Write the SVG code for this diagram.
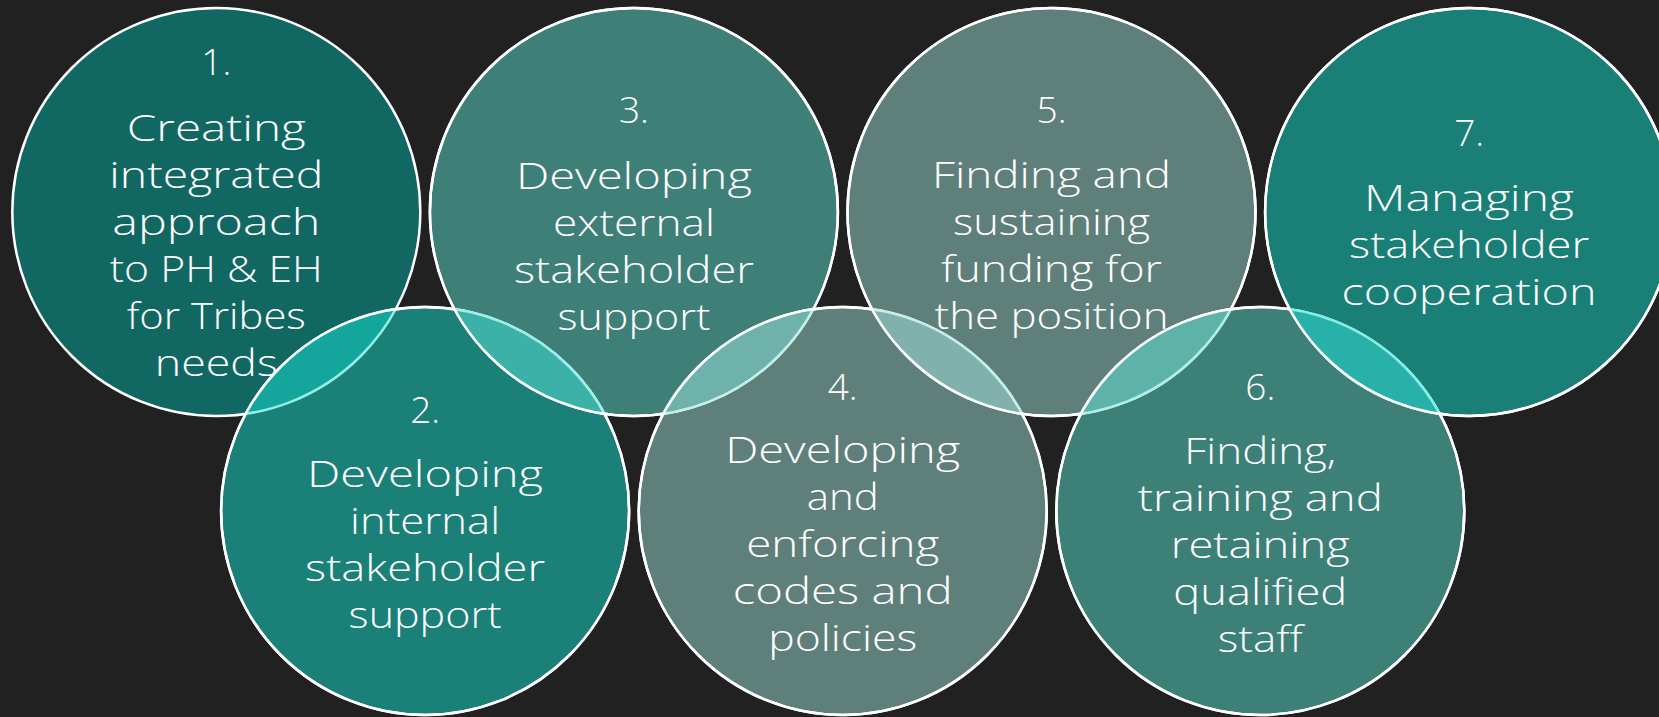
<svg xmlns="http://www.w3.org/2000/svg" width="1659" height="717" viewBox="0 0 1659 717">
<style>
.c{stroke:#ffffff;stroke-width:2.5}
.t{font-family:"Open Sans","DejaVu Sans",sans-serif;font-weight:300;font-size:37px;fill:#ffffff;text-anchor:middle}
.ln{stroke-width:2.5;fill:none}
</style>
<defs>
<clipPath id="k2"><circle cx="425.1" cy="511" r="204"/></clipPath>
<clipPath id="k3"><circle cx="633.9" cy="212" r="204"/></clipPath>
<clipPath id="k4"><circle cx="842.7" cy="511" r="204"/></clipPath>
<clipPath id="k5"><circle cx="1051.5" cy="212" r="204"/></clipPath>
<clipPath id="k6"><circle cx="1260.3" cy="511" r="204"/></clipPath>
<clipPath id="k7"><circle cx="1469.1" cy="212" r="204"/></clipPath>
</defs>
<rect width="1659" height="717" fill="#212121"/>

<g id="node1">
<circle class="c" cx="216.3" cy="212" r="204" fill="#116863"/>
<text class="t" x="216.3" y="75">1.</text>
<text class="t" x="216.3" y="141" textLength="179" lengthAdjust="spacingAndGlyphs">Creating</text>
<text class="t" x="216.3" y="188" textLength="214" lengthAdjust="spacingAndGlyphs">integrated</text>
<text class="t" x="216.3" y="235" textLength="208" lengthAdjust="spacingAndGlyphs">approach</text>
<text class="t" x="216.3" y="282" textLength="213" lengthAdjust="spacingAndGlyphs">to PH &amp; EH</text>
<text class="t" x="216.3" y="329" textLength="179" lengthAdjust="spacingAndGlyphs">for Tribes</text>
<text class="t" x="216.3" y="376" textLength="123" lengthAdjust="spacingAndGlyphs">needs</text>
</g>

<g id="node2">
<circle class="c" cx="425.1" cy="511" r="204" fill="#1B8078"/>
<text class="t" x="425.1" y="423">2.</text>
<text class="t" x="425.1" y="487" textLength="236" lengthAdjust="spacingAndGlyphs">Developing</text>
<text class="t" x="425.1" y="534" textLength="150" lengthAdjust="spacingAndGlyphs">internal</text>
<text class="t" x="425.1" y="581" textLength="240" lengthAdjust="spacingAndGlyphs">stakeholder</text>
<text class="t" x="425.1" y="628" textLength="153" lengthAdjust="spacingAndGlyphs">support</text>
</g>

<g id="node3">
<circle class="c" cx="633.9" cy="212" r="204" fill="#3E8078"/>
<text class="t" x="633.9" y="123">3.</text>
<text class="t" x="633.9" y="189" textLength="236" lengthAdjust="spacingAndGlyphs">Developing</text>
<text class="t" x="633.9" y="236" textLength="162" lengthAdjust="spacingAndGlyphs">external</text>
<text class="t" x="633.9" y="283" textLength="240" lengthAdjust="spacingAndGlyphs">stakeholder</text>
<text class="t" x="633.9" y="330" textLength="153" lengthAdjust="spacingAndGlyphs">support</text>
</g>

<g id="node4">
<circle class="c" cx="842.7" cy="511" r="204" fill="#5F7F7B"/>
<text class="t" x="842.7" y="400">4.</text>
<text class="t" x="842.7" y="463" textLength="235" lengthAdjust="spacingAndGlyphs">Developing</text>
<text class="t" x="842.7" y="510" textLength="72" lengthAdjust="spacingAndGlyphs">and</text>
<text class="t" x="842.7" y="557" textLength="193" lengthAdjust="spacingAndGlyphs">enforcing</text>
<text class="t" x="842.7" y="604" textLength="220" lengthAdjust="spacingAndGlyphs">codes and</text>
<text class="t" x="842.7" y="651" textLength="149" lengthAdjust="spacingAndGlyphs">policies</text>
</g>

<g id="node5">
<circle class="c" cx="1051.5" cy="212" r="204" fill="#5F7F7B"/>
<text class="t" x="1051.5" y="123">5.</text>
<text class="t" x="1051.5" y="188" textLength="239" lengthAdjust="spacingAndGlyphs">Finding and</text>
<text class="t" x="1051.5" y="235" textLength="197" lengthAdjust="spacingAndGlyphs">sustaining</text>
<text class="t" x="1051.5" y="282" textLength="221" lengthAdjust="spacingAndGlyphs">funding for</text>
<text class="t" x="1051.5" y="329" textLength="234" lengthAdjust="spacingAndGlyphs">the position</text>
</g>

<g id="node6">
<circle class="c" cx="1260.3" cy="511" r="204" fill="#3D8077"/>
<text class="t" x="1260.3" y="400">6.</text>
<text class="t" x="1260.3" y="464" textLength="152" lengthAdjust="spacingAndGlyphs">Finding,</text>
<text class="t" x="1260.3" y="511" textLength="245" lengthAdjust="spacingAndGlyphs">training and</text>
<text class="t" x="1260.3" y="558" textLength="179" lengthAdjust="spacingAndGlyphs">retaining</text>
<text class="t" x="1260.3" y="605" textLength="174" lengthAdjust="spacingAndGlyphs">qualified</text>
<text class="t" x="1260.3" y="652" textLength="85" lengthAdjust="spacingAndGlyphs">staff</text>
</g>

<g id="node7">
<circle class="c" cx="1469.1" cy="212" r="204" fill="#1A7F77"/>
<text class="t" x="1469.1" y="146">7.</text>
<text class="t" x="1469.1" y="211" textLength="210" lengthAdjust="spacingAndGlyphs">Managing</text>
<text class="t" x="1469.1" y="258" textLength="240" lengthAdjust="spacingAndGlyphs">stakeholder</text>
<text class="t" x="1469.1" y="305" textLength="255" lengthAdjust="spacingAndGlyphs">cooperation</text>
</g>

<g id="overlaps">
<circle cx="216.3" cy="212" r="204" fill="#14A69C" clip-path="url(#k2)"/>
<circle class="ln" cx="216.3" cy="212" r="204" stroke="#8FF0E6" clip-path="url(#k2)"/>
<circle class="ln" cx="425.1" cy="511" r="204" stroke="#ffffff"/>

<circle cx="425.1" cy="511" r="204" fill="#3BB1A8" clip-path="url(#k3)"/>
<circle class="ln" cx="425.1" cy="511" r="204" stroke="#9AF0E8" clip-path="url(#k3)"/>
<circle class="ln" cx="633.9" cy="212" r="204" stroke="#ffffff"/>

<circle cx="633.9" cy="212" r="204" fill="#6EB2AB" clip-path="url(#k4)"/>
<circle class="ln" cx="633.9" cy="212" r="204" stroke="#C0F0EA" clip-path="url(#k4)"/>
<circle class="ln" cx="842.7" cy="511" r="204" stroke="#ffffff"/>

<circle cx="842.7" cy="511" r="204" fill="#80B1AC" clip-path="url(#k5)"/>
<circle class="ln" cx="842.7" cy="511" r="204" stroke="#C4EEEA" clip-path="url(#k5)"/>
<circle class="ln" cx="1051.5" cy="212" r="204" stroke="#ffffff"/>

<circle cx="1051.5" cy="212" r="204" fill="#5DB2AA" clip-path="url(#k6)"/>
<circle class="ln" cx="1051.5" cy="212" r="204" stroke="#A8F0E8" clip-path="url(#k6)"/>
<circle class="ln" cx="1260.3" cy="511" r="204" stroke="#ffffff"/>

<circle cx="1260.3" cy="511" r="204" fill="#28B1A8" clip-path="url(#k7)"/>
<circle class="ln" cx="1260.3" cy="511" r="204" stroke="#80F0E6" clip-path="url(#k7)"/>
<circle class="ln" cx="1469.1" cy="212" r="204" stroke="#ffffff"/>
</g>
</svg>
